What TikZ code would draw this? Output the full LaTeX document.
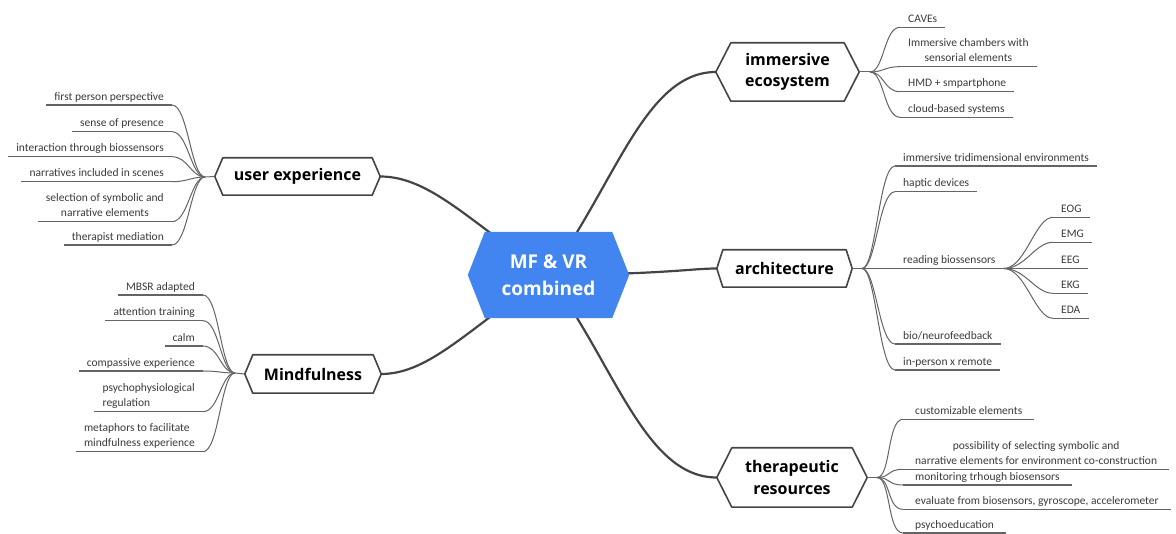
\documentclass[tikz,border=0pt]{standalone}
\usepackage{fontspec}
\setmainfont{Carlito}
\newfontfamily\headfont{Open Sans}
\usetikzlibrary{backgrounds}

\definecolor{hubblue}{RGB}{66,133,240}
\definecolor{edgegrey}{RGB}{68,68,68}
\definecolor{leafgrey}{RGB}{100,100,100}
\definecolor{leaftext}{RGB}{58,58,58}

% hexagon with pointed left/right ends drawn around a node
\newcommand\hexshape[3][]{%
  \path[#1] (#2.west) -- ([xshift=#3pt]#2.north west) -- ([xshift=-#3pt]#2.north east)
    -- (#2.east) -- ([xshift=-#3pt]#2.south east) -- ([xshift=#3pt]#2.south west) -- cycle;}

\tikzset{
  leaf/.style={font=\fontsize{11.5}{15}\selectfont, text=leaftext, inner xsep=8pt,
    inner ysep=0pt, text height=8.5pt, text depth=4.5pt},
  leafL/.style={leaf, anchor=south east},
  leafR/.style={leaf, anchor=south west},
  underline/.style={draw=leafgrey, line width=1.1pt},
  fan/.style={draw=leafgrey, line width=1pt},
  trunk/.style={draw=edgegrey, line width=2.2pt},
  topic/.style={font=\headfont\bfseries\fontsize{16}{21}\selectfont, text=black,
    align=center, inner sep=0pt},
  hexframe/.style={draw=edgegrey, line width=1.6pt, fill=white, line join=round},
}

\begin{document}
\begin{tikzpicture}[x=1pt, y=-1pt]
\useasboundingbox (0,0) rectangle (1176,534);

% central topic
\node[topic, text=white, font=\headfont\bfseries\fontsize{19}{27}\selectfont,
  minimum width=161pt, minimum height=86pt] (mf) at (548.5,275) {MF \& VR\\combined};

% main branches
\node[topic, minimum width=165pt, minimum height=37pt] (ux) at (297.5,176.5) {user experience};
\node[topic, minimum width=136pt, minimum height=38pt] (mind) at (313,374) {Mindfulness};
\node[topic, minimum width=143pt, minimum height=58pt] (eco) at (787.5,72) {immersive\\ecosystem};
\node[topic, minimum width=135pt, minimum height=37pt] (arch) at (784.5,268.5) {architecture};
\node[topic, minimum width=150pt, minimum height=59pt] (ther) at (792,477.5) {therapeutic\\resources};

% fan-out points
\coordinate (uxh) at (205,177);
\coordinate (mindh) at (235,373);
\coordinate (ecoh) at (870,72);
\coordinate (archh) at (862,268.5);
\coordinate (therh) at (877,477.5);

% user experience
\node[leafL] (ux1) at (172,105) {first person perspective};
\node[leafL] (ux2) at (172,131.7) {sense of presence};
\node[leafL] (ux3) at (172,156.7) {interaction through biossensors};
\node[leafL] (ux4) at (172,181.7) {narratives included in scenes};
\node[leafL, align=center] (ux5) at (172,221.7) {selection of symbolic and\\narrative elements};
\node[leafL] (ux6) at (172,245) {therapist mediation};

% mindfulness
\node[leafL] (mi1) at (203,295) {MBSR adapted};
\node[leafL] (mi2) at (203,320.7) {attention training};
\node[leafL] (mi3) at (203,346) {calm};
\node[leafL] (mi4) at (203,371) {compassive experience};
\node[leafL, align=left] (mi5) at (203,411.7) {psychophysiological\\regulation};
\node[leafL, align=left] (mi6) at (203,451.7) {metaphors to facilitate\\mindfulness experience};

% immersive ecosystem
\node[leafR] (ec1) at (900,27.3) {CAVEs};
\node[leafR, align=center] (ec2) at (900,66.7) {Immersive chambers with\\sensorial elements};
\node[leafR] (ec3) at (900,91.7) {HMD + smpartphone};
\node[leafR] (ec4) at (900,117.3) {cloud-based systems};

% architecture
\node[leafR] (ar1) at (895,166) {immersive tridimensional environments};
\node[leafR] (ar2) at (895,191.7) {haptic devices};
\node[leafR] (ar3) at (895,268.5) {reading biossensors};
\node[leafR] (ar4) at (895,344) {bio/neurofeedback};
\node[leafR] (ar5) at (895,370) {in-person x remote};

% biosensor signals
\node[leafR] (bs1) at (1053,217.3) {EOG};
\node[leafR] (bs2) at (1053,242.3) {EMG};
\node[leafR] (bs3) at (1053,268.5) {EEG};
\node[leafR] (bs4) at (1053,293.3) {EKG};
\node[leafR] (bs5) at (1053,318.3) {EDA};

% therapeutic resources
\node[leafR, inner xsep=12pt] (th1) at (903,419.3) {customizable elements};
\node[leafR, inner xsep=12pt, align=center] (th2) at (903,469.3) {possibility of selecting symbolic and\\narrative elements for environment co-construction};
\node[leafR, inner xsep=12pt] (th3) at (903,485) {monitoring trhough biosensors};
\node[leafR, inner xsep=12pt] (th4) at (903,509.3) {evaluate from biosensors, gyroscope, accelerometer};
\node[leafR, inner xsep=12pt] (th5) at (903,533) {psychoeducation};

% underlines
\foreach \n in {ux1,ux2,ux3,ux4,ux5,ux6,mi1,mi2,mi3,mi4,mi5,mi6,ec1,ec2,ec3,ec4,
  ar1,ar2,ar3,ar4,ar5,bs1,bs2,bs3,bs4,bs5,th1,th2,th3,th4,th5}
  \draw[underline] (\n.south west) -- (\n.south east);

% fans on the left
\draw[fan] (ux.west) -- (uxh);
\foreach \n in {ux1,ux2,ux3,ux4,ux5,ux6}
  \draw[fan] (uxh) .. controls +(-14,0) and +(16,0) .. (\n.south east);
\draw[fan] (mind.west) -- (mindh);
\foreach \n in {mi1,mi2,mi3,mi4,mi5,mi6}
  \draw[fan] (mindh) .. controls +(-14,0) and +(16,0) .. (\n.south east);

% fans on the right
\draw[fan] (eco.east) -- (ecoh);
\foreach \n in {ec1,ec2,ec3,ec4}
  \draw[fan] (ecoh) .. controls +(14,0) and +(-16,0) .. (\n.south west);
\draw[fan] (arch.east) -- (archh);
\foreach \n in {ar1,ar2,ar3,ar4,ar5}
  \draw[fan] (archh) .. controls +(14,0) and +(-16,0) .. (\n.south west);
\foreach \n in {bs1,bs2,bs3,bs4,bs5}
  \draw[fan] (ar3.south east) .. controls +(22,0) and +(-18,0) .. (\n.south west);
\draw[fan] (ther.east) -- (therh);
\foreach \n in {th1,th2,th3,th4,th5}
  \draw[fan] (therh) .. controls +(14,0) and +(-16,0) .. (\n.south west);

\begin{scope}[on background layer]
  % trunks from the centre
  \draw[trunk] (mf.center) .. controls (470,222) and (430,176.5) .. (ux.east);
  \draw[trunk] (mf.center) .. controls (470,327) and (430,374) .. (mind.east);
  \draw[trunk] (mf.center) .. controls (615,185) and (645,72) .. (eco.west);
  \draw[trunk] (mf.center) .. controls (670,274) and (690,268.5) .. (arch.west);
  \draw[trunk] (mf.center) .. controls (615,365) and (645,477.5) .. (ther.west);
  % frames
  \hexshape[fill=hubblue]{mf}{17}
  \hexshape[hexframe]{ux}{8}
  \hexshape[hexframe]{mind}{8}
  \hexshape[hexframe]{eco}{15}
  \hexshape[hexframe]{arch}{6}
  \hexshape[hexframe]{ther}{15}
\end{scope}
\end{tikzpicture}
\end{document}
